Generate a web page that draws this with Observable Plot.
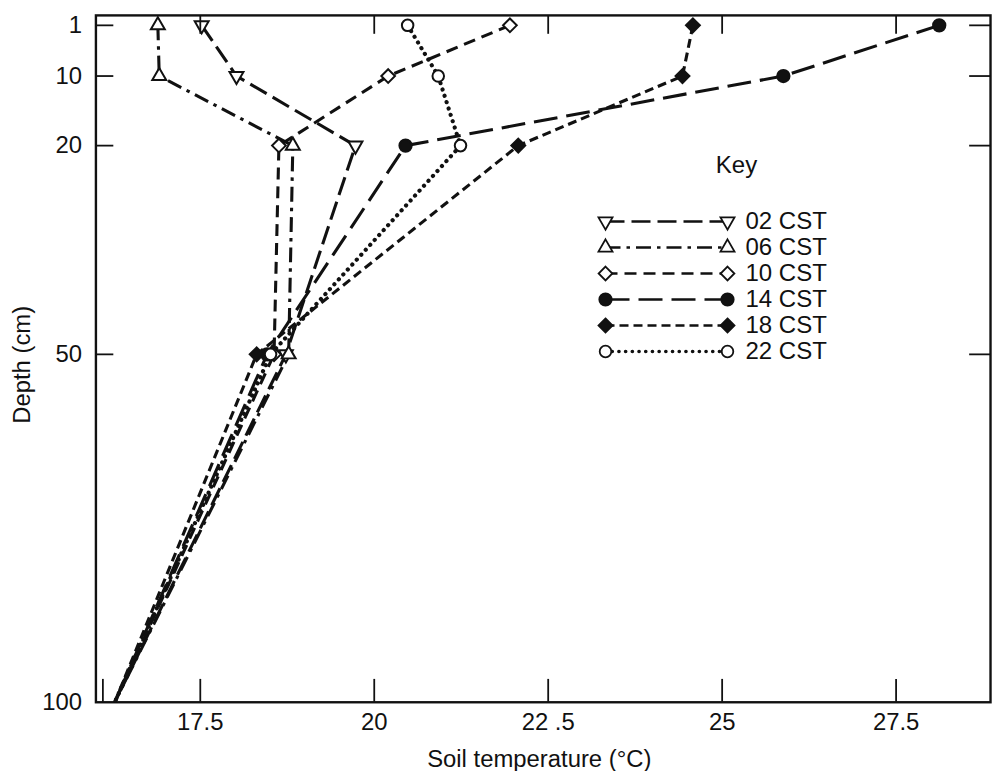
<!DOCTYPE html>
<html>
<head>
<meta charset="utf-8">
<script src="https://cdn.jsdelivr.net/npm/d3@7"></script>
<script src="https://cdn.jsdelivr.net/npm/@observablehq/plot@0.6"></script>
<style>
  html, body { margin: 0; padding: 0; background: #fff; overflow: hidden; }
  #wrap { position: relative; width: 994px; height: 776px; overflow: hidden; }
  #chart { position: absolute; left: 0; top: 0; }
  #legend { position: absolute; left: 560px; top: 140px; }
</style>
</head>
<body>
<div id="wrap"><div id="chart"></div><div id="legend"></div></div>
<script>
// Soil temperature profiles (°C) at five depths, one profile per observation hour
const depths = [1, 10, 20, 50, 100];
const hours = ["02 CST", "06 CST", "10 CST", "14 CST", "18 CST", "22 CST"];
const temp02 = [17.52, 18.02, 19.73, 18.73, 16.27];
const temp06 = [16.89, 16.91, 18.83, 18.77, 16.27];
const temp10 = [21.95, 20.20, 18.63, 18.56, 16.27];
const temp14 = [28.12, 25.88, 20.45, 18.46, 16.27];
const temp18 = [24.58, 24.43, 22.07, 18.31, 16.27];
const temp22 = [20.48, 20.92, 21.24, 18.51, 16.27];

// Axis ticks
const xTicks = [17.5, 20, 22.5, 25, 27.5];
const xTickLabels = ["17.5", "20", "22 .5", "25", "27.5"];
const yTicks = [1, 10, 20, 50, 100];
const yTickLabels = ["1", "10", "20", "50", "100"];

// Downward-pointing triangle (mirror of d3.symbolTriangle)
const sqrt3 = Math.sqrt(3);
const triangleDown = {
  draw(context, size) {
    const h = Math.sqrt(size / (sqrt3 * 3));
    context.moveTo(0, 2 * h);
    context.lineTo(-sqrt3 * h, -h);
    context.lineTo(sqrt3 * h, -h);
    context.closePath();
  }
};

const ink = "#111";
const seriesStyle = [
  {name: hours[0], values: temp02, symbol: triangleDown, r: 5.2, fill: "#fff", dash: "19 7", cap: "butt", width: 3.1},
  {name: hours[1], values: temp06, symbol: "triangle", r: 5.2, fill: "#fff", dash: "15 6 3.5 6", cap: "butt", width: 3.1},
  {name: hours[2], values: temp10, symbol: "diamond2", r: 6.2, fill: "#fff", dash: "12 7", cap: "butt", width: 3.1},
  {name: hours[3], values: temp14, symbol: "circle", r: 6.2, fill: ink, dash: "24 9", cap: "butt", width: 3.1},
  {name: hours[4], values: temp18, symbol: "diamond2", r: 6.3, fill: ink, dash: "9 5", cap: "butt", width: 3.1},
  {name: hours[5], values: temp22, symbol: "circle", r: 5.8, fill: "#fff", dash: "0.1 6.6", cap: "round", width: 4.2}
];

const font = "'Liberation Sans', Arial, Helvetica, sans-serif";
const fs = 24;
const W = 1000, H = 776;
const mL = 96, mR = 4, mT = 15, mB = 70;
const pxPerDegree = 70;

const marks = [Plot.frame({stroke: ink, strokeWidth: 2.4})];

for (const s of seriesStyle) {
  const rows = depths.map((d, i) => ({depth: d, temp: s.values[i]}));
  marks.push(Plot.line(rows, {
    x: "temp", y: "depth", stroke: ink, strokeWidth: s.width,
    strokeDasharray: s.dash, strokeLinecap: s.cap, curve: "linear"
  }));
}
for (const s of seriesStyle) {
  const rows = depths.map((d, i) => ({depth: d, temp: s.values[i]})).filter(r => r.depth < 100);
  marks.push(Plot.dot(rows, {
    x: "temp", y: "depth", symbol: s.symbol, r: s.r,
    fill: s.fill, stroke: ink, strokeWidth: 2
  }));
}

// Inward ticks on all four sides, labels on the left and bottom
marks.push(
  Plot.axisX({anchor: "bottom", ticks: [16.1, ...xTicks], tickSize: -23, tickFormat: () => "", label: null, stroke: ink, strokeWidth: 1.8}),
  Plot.axisX({anchor: "top", ticks: xTicks, tickSize: -18, tickFormat: () => "", label: null, stroke: ink, strokeWidth: 1.8}),
  Plot.axisY({anchor: "left", ticks: yTicks.slice(0, 4), tickSize: -18, tickFormat: () => "", label: null, stroke: ink, strokeWidth: 1.8}),
  Plot.axisY({anchor: "right", ticks: yTicks.slice(0, 4), tickSize: -22, tickFormat: () => "", label: null, stroke: ink, strokeWidth: 1.8}),
  Plot.axisX({anchor: "bottom", ticks: xTicks, tickSize: 0, tickPadding: 11, label: null,
    tickFormat: d => xTickLabels[xTicks.indexOf(d)], fontSize: fs, fill: ink}),
  Plot.axisY({anchor: "left", ticks: yTicks, tickSize: 0, tickPadding: 14, label: null,
    tickFormat: d => yTickLabels[yTicks.indexOf(d)], fontSize: fs, fill: ink}),
  Plot.text(["Depth (cm)"], {frameAnchor: "left", rotate: -90, dx: -74, dy: 6, fontSize: fs, fill: ink,
    textAnchor: "middle", lineAnchor: "middle"}),
  Plot.text(["Soil temperature (°C)"], {frameAnchor: "bottom", dx: -4, dy: 57, fontSize: fs, fill: ink,
    textAnchor: "middle", lineAnchor: "middle"})
);

const chart = Plot.plot({
  width: W, height: H,
  marginLeft: mL, marginRight: mR, marginTop: mT, marginBottom: mB,
  style: {fontFamily: font, fontSize: fs + "px", background: "transparent", color: ink},
  x: {type: "linear", domain: [16, 16 + (W - mL - mR) / pxPerDegree]},
  y: {type: "linear", domain: [1, 10, 100], range: [25, 76, 706]},
  marks
});
document.getElementById("chart").append(chart);

// Key: a line sample with end markers for each hour
const keyMarks = [
  Plot.text(["Key"], {frameAnchor: "top-left", dx: 176, dy: 25, fontSize: fs, fill: ink, textAnchor: "middle", lineAnchor: "middle"})
];
for (const s of seriesStyle) {
  const ends = [{k: 0, name: s.name}, {k: 1, name: s.name}];
  keyMarks.push(Plot.line(ends, {x: "k", y: "name", stroke: ink, strokeWidth: s.width === 4.2 ? 3.6 : 2.6,
    strokeDasharray: s.dash, strokeLinecap: s.cap}));
  keyMarks.push(Plot.dot(ends, {x: "k", y: "name", symbol: s.symbol, r: s.r, fill: s.fill, stroke: ink, strokeWidth: 1.8}));
}
keyMarks.push(Plot.text(hours, {x: () => 1, y: d => d, dx: 18, textAnchor: "start", fontSize: fs, fill: ink, lineAnchor: "middle"}));

const key = Plot.plot({
  width: 300, height: 230, margin: 0,
  style: {fontFamily: font, fontSize: fs + "px", background: "transparent", color: ink, overflow: "visible"},
  x: {type: "linear", domain: [0, 1], range: [45, 167], axis: null},
  y: {type: "point", domain: hours, range: [79, 212], padding: 0, axis: null},
  marks: keyMarks
});
document.getElementById("legend").append(key);
</script>
</body>
</html>
